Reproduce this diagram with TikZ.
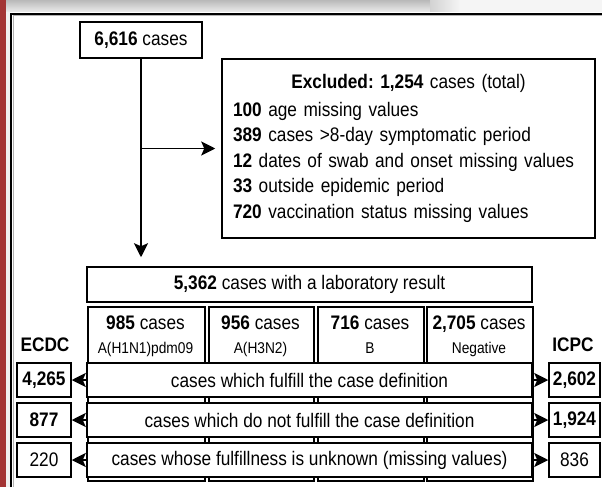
\documentclass[tikz,border=0pt]{standalone}
\usepackage{fontspec}
\setmainfont{Liberation Sans}[FakeStretch=0.88]
\usetikzlibrary{arrows.meta}
\definecolor{framered}{RGB}{163,52,52}

\begin{document}
\begin{tikzpicture}[x=1pt,y=-1pt,
  box/.style={draw,line width=1.5pt,fill=white,inner sep=0pt},
  arr/.style={line width=1.8pt,-{Stealth[length=14pt,width=14pt,inset=3pt]}},
  every node/.style={font=\fontsize{19.6}{25.5}\selectfont}]
\useasboundingbox (0,0) rectangle (602,487);
% frame of the page
\fill[gray!8] (0,0) rectangle (602,12);
\shade[top color=gray!55,bottom color=gray!15] (0,0) rectangle (430,12);
\shade[left color=gray!35,right color=gray!8] (430,0) rectangle (460,12);
\fill[gray!12] (5,12) rectangle (10,487);
\fill[framered] (0,0) rectangle (6,487);
\draw[gray!60,line width=1pt] (13,487) -- (13,16) -- (602,16);
\draw[line width=2pt] (11,487) -- (11,14) -- (602,14);

% top part
\node[box,minimum width=122pt,minimum height=36pt] (total) at (141,40) {\textbf{6,616} cases};
\node[box,minimum width=373pt,minimum height=179pt,text width=351pt,align=left,inner xsep=11pt] (excl) at (408.5,148.5)
  {\makebox[351pt]{\textbf{Excluded:\ 1,254} cases (total)}\\[2pt]
   \textbf{100} age missing values\\
   \textbf{389} cases >8-day symptomatic period\\
   \textbf{12} dates of swab and onset missing values\\
   \textbf{33} outside epidemic period\\
   \textbf{720} vaccination status missing values\\[5pt]};
\node[box,minimum width=445pt,minimum height=35pt] (labres) at (309.5,284.5) {\textbf{5,362} cases with a laboratory result};
\draw[arr,shorten >=9pt] (total.south) -- (total.south |- labres.north);
\coordinate (branch) at (total.south |- excl.west);
\draw[arr,shorten >=6pt] (branch) -- (excl.west);

% columns by subtype
\foreach \c/\xa/\xb/\num/\sub in {1/87/204/985/A(H1N1)pdm09, 2/208/313/956/A(H3N2), 3/317/423/716/B, 4/426/532/{2,705}/Negative}{
  \node[box,anchor=north west,minimum width={(\xb-\xa)*1pt},minimum height=174pt] (col\c) at (\xa,306) {};
  \node[anchor=base] (head\c) at ({(\xa+\xb)/2},329) {\textbf{\num} cases};
  \node[anchor=base,font=\fontsize{15.6}{17}\selectfont] (sub\c) at ({(\xa+\xb)/2},353) {\sub};}

\node (ecdclab) at (45,345) {\textbf{ECDC}};
\node (icpclab) at (573,345) {\textbf{ICPC}};

% rows by case definition
\foreach \r/\yc/\txt/\ec/\ic in {1/380/{cases which fulfill the case definition}/{\textbf{4,265}}/{\textbf{2,602}},
    2/420/{cases which do not fulfill the case definition}/{\textbf{877}}/{\textbf{1,924}},
    3/460/{cases whose fulfillness is unknown (missing values)}/220/836}{
  \node[box,minimum width=445pt,minimum height=34pt] (row\r) at (309.5,\yc) {\txt};
  \node[box,minimum width=54pt,minimum height=34pt] (ecdc\r) at (44,\yc) {\ec};
  \node[box,minimum width=51pt,minimum height=34pt] (icpc\r) at (574.5,\yc) {\ic};
  \draw[arr] (row\r) -- (ecdc\r);
  \draw[arr] (row\r) -- (icpc\r);}
\end{tikzpicture}
\end{document}
